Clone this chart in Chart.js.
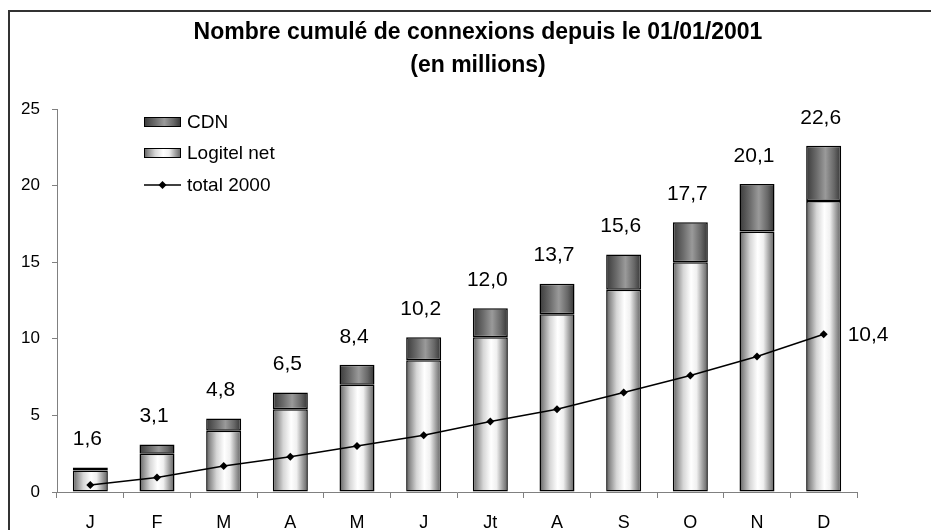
<!DOCTYPE html>
<html>
<head>
<meta charset="utf-8">
<title>Nombre cumulé de connexions</title>
<script src="https://cdn.jsdelivr.net/npm/chart.js@4.4.0/dist/chart.umd.min.js"></script>
<style>
  html, body { margin:0; padding:0; background:#fff; }
  #wrap { width:931px; height:530px; position:relative; }
</style>
</head>
<body>
<div id="wrap"><canvas id="chart" width="931" height="530"></canvas></div>
<script>
// values
const months = ['J','F','M','A','M','J','Jt','A','S','O','N','D'];
const logitelNet = [1.4, 2.5, 4.0, 5.4, 7.0, 8.6, 10.1, 11.6, 13.2, 15.0, 17.0, 19.0];
const cdn = [0.2, 0.6, 0.8, 1.1, 1.3, 1.5, 1.9, 2.0, 2.3, 2.6, 3.1, 3.6];
const cumulLabels = [1.6, 3.1, 4.8, 6.5, 8.4, 10.2, 12.0, 13.7, 15.6, 17.7, 20.1, 22.6];
const total2000 = [0.45, 0.95, 1.7, 2.3, 3.0, 3.7, 4.6, 5.4, 6.5, 7.6, 8.85, 10.3];
const lastTotalLabel = 10.4;
const yTicks = [0, 5, 10, 15, 20, 25];
const titleLines = ['Nombre cumulé de connexions depuis le 01/01/2001', '(en millions)'];

const FONT = "Arial, 'Liberation Sans', sans-serif";
const BAR_PCT = 0.525;

const logitelStops = [[0,'#5c5c5c'],[0.1,'#8a8a8a'],[0.3,'#d6d6d6'],[0.52,'#ffffff'],[0.68,'#f0f0f0'],[0.85,'#a0a0a0'],[1,'#5e5e5e']];
const cdnStops = [[0,'#3a3a3a'],[0.3,'#6c6c6c'],[0.55,'#9a9a9a'],[0.8,'#686868'],[1,'#343434']];

function hGradient(c, x0, x1, stops){
  const g = c.createLinearGradient(x0, 0, x1, 0);
  stops.forEach(s => g.addColorStop(s[0], s[1]));
  return g;
}

function barFill(stops, fallback){
  return (ctx) => {
    const chart = ctx.chart;
    if(ctx.type !== 'data' || !chart.chartArea || !chart.scales.x) return fallback;
    const xs = chart.scales.x;
    const cx = xs.getPixelForValue(ctx.dataIndex);
    const w = xs.width / months.length * BAR_PCT;
    return hGradient(chart.ctx, cx - w/2, cx + w/2, stops);
  };
}

const fmt = v => v.toFixed(1).replace('.', ',');

// frame, title, legend and value labels
const decorations = {
  id: 'decorations',
  beforeDraw(chart){
    const c = chart.ctx;
    c.save();
    c.fillStyle = '#fff';
    c.fillRect(0, 0, chart.width, chart.height);
    c.strokeStyle = '#333';
    c.lineWidth = 2;
    c.strokeRect(9, 11, 940, 540);
    c.fillStyle = '#000';
    c.font = 'bold 23px ' + FONT;
    c.textAlign = 'center';
    c.textBaseline = 'middle';
    c.fillText(titleLines[0], 478, 33);
    c.fillText(titleLines[1], 478, 66);
    c.restore();
  },
  afterDatasetsDraw(chart){
    const c = chart.ctx;
    c.save();
    c.fillStyle = '#000';
    c.font = '21px ' + FONT;
    c.textBaseline = 'middle';
    c.textAlign = 'center';
    const top = chart.getDatasetMeta(1).data;
    top.forEach((el, i) => {
      c.fillText(fmt(cumulLabels[i]), el.x - 3, el.y - 28);
    });
    const pts = chart.getDatasetMeta(2).data;
    const last = pts[pts.length - 1];
    c.textAlign = 'left';
    c.fillText(fmt(lastTotalLabel), last.x + 24, last.y + 1);

    // legend
    const lx = 144, bw = 37, bh = 10;
    const rows = [
      { label: chart.data.datasets[1].label, y: 122, stops: cdnStops },
      { label: chart.data.datasets[0].label, y: 153, stops: logitelStops },
      { label: chart.data.datasets[2].label, y: 185, line: true }
    ];
    c.font = '19px ' + FONT;
    rows.forEach(r => {
      if(r.line){
        c.strokeStyle = '#000';
        c.lineWidth = 1.5;
        c.beginPath();
        c.moveTo(lx, r.y); c.lineTo(lx + bw, r.y);
        c.stroke();
        const mx = lx + bw/2;
        c.fillStyle = '#000';
        c.beginPath();
        c.moveTo(mx, r.y - 4); c.lineTo(mx + 4, r.y); c.lineTo(mx, r.y + 4); c.lineTo(mx - 4, r.y);
        c.closePath(); c.fill();
      } else {
        c.fillStyle = hGradient(c, lx, lx + bw, r.stops);
        c.fillRect(lx, r.y - bh/2, bw, bh);
        c.strokeStyle = '#000';
        c.lineWidth = 1;
        c.strokeRect(lx + 0.5, r.y - bh/2 + 0.5, bw - 1, bh - 1);
      }
      c.fillStyle = '#000';
      c.fillText(r.label, 187, r.y + 1);
    });
    c.restore();
  }
};

new Chart(document.getElementById('chart').getContext('2d'), {
  type: 'bar',
  data: {
    labels: months,
    datasets: [
      { label: 'Logitel net', data: logitelNet, stack: 's', order: 2,
        backgroundColor: barFill(logitelStops, '#d0d0d0'), borderColor: '#000', borderWidth: 1.5, borderSkipped: false,
        barPercentage: BAR_PCT, categoryPercentage: 1 },
      { label: 'CDN', data: cdn, stack: 's', order: 2,
        backgroundColor: barFill(cdnStops, '#707070'), borderColor: '#000', borderWidth: 1.5, borderSkipped: false,
        barPercentage: BAR_PCT, categoryPercentage: 1 },
      { label: 'total 2000', type: 'line', data: total2000, order: 1,
        borderColor: '#000', borderWidth: 1.5, backgroundColor: '#000',
        pointStyle: 'rectRot', pointRadius: 4, pointBorderWidth: 0, tension: 0 }
    ]
  },
  options: {
    responsive: false,
    animation: false,
    layout: { padding: { left: 15, right: 74, top: 109, bottom: 0 } },
    plugins: { legend: { display: false }, title: { display: false }, tooltip: { enabled: false } },
    scales: {
      x: {
        stacked: true,
        grid: { offset: true, drawOnChartArea: false, tickLength: 6, color: '#808080' },
        border: { color: '#808080', width: 1 },
        ticks: { color: '#000', font: { family: FONT, size: 18 }, padding: 14 },
        afterFit: s => { s.height = 38; }
      },
      y: {
        stacked: true,
        min: 0, max: 25,
        afterBuildTicks: s => { s.ticks = yTicks.map(v => ({ value: v })); },
        grid: { drawOnChartArea: false, tickLength: 5, color: '#808080' },
        border: { color: '#808080', width: 1 },
        ticks: { color: '#000', font: { family: FONT, size: 17 }, padding: 12 },
        afterFit: s => { s.width = 42; }
      }
    }
  },
  plugins: [decorations]
});
</script>
</body>
</html>
